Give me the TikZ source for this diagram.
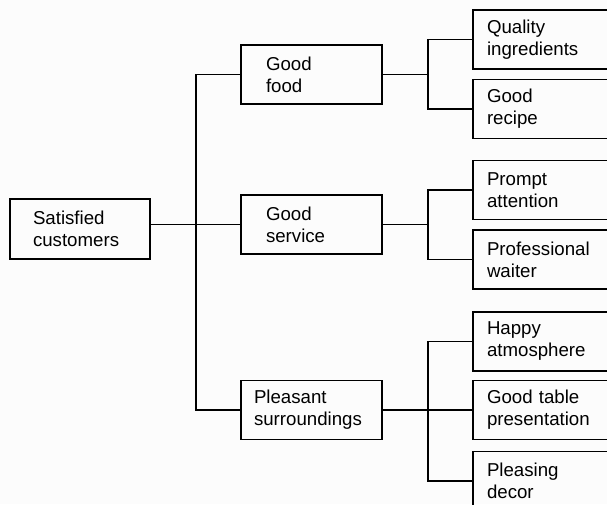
\documentclass[tikz,border=0pt]{standalone}
\usepackage{fontspec}
\setmainfont{Liberation Sans}
\begin{document}
\begin{tikzpicture}[x=0.75pt,y=-0.75pt,
  line width=0.9pt,
  % box with left-aligned text: #1 width, #2 inset, #3 text width (all in pt)
  box/.style n args={3}{draw, rectangle, inner ysep=0pt, outer sep=0pt,
    minimum width=#1, minimum height=44.25pt, inner xsep=#2, text width=#3,
    align=left, font=\fontsize{14}{16.5}\selectfont},
  rootbox/.style={box={105pt}{17.25pt}{70.5pt}, minimum height=45pt},
  midbox/.style={box={105.75pt}{18.75pt}{68.25pt}},
  widemid/.style={box={105.75pt}{9.75pt}{86.25pt}},
  leafbox/.style={box={127.5pt}{10.5pt}{106.5pt}}]

  \path[use as bounding box] (0,0) rectangle (607,504);
  \clip (0,0) rectangle (607,504);
  \fill[fill={rgb,255:red,252;green,252;blue,252}] (0,0) rectangle (607,504);

  % goal
  \node[rootbox] (root) at (80,229) {Satisfied\\customers};

  % main factors
  \node[midbox]  (food)     at (311.5,74.5)  {Good\\food};
  \node[midbox]  (service)  at (311.5,224.5) {Good\\service};
  \node[widemid] (pleasant) at (311.5,410)   {Pleasant\\surroundings};

  % contributing factors
  \node[leafbox] (quality) at (558,39.5)  {Quality\\ingredients};
  \node[leafbox] (recipe)  at (558,109)   {Good\\recipe};
  \node[leafbox] (prompt)  at (558,190)   {Prompt\\attention};
  \node[leafbox] (waiter)  at (558,259.5) {Professional\\waiter};
  \node[leafbox] (happy)   at (558,341.5) {Happy\\atmosphere};
  \node[leafbox] (table)   at (558,410)   {Good table\\presentation};
  \node[leafbox] (decor)   at (558,481)   {Pleasing\\decor};

  % bracket lines
  \coordinate (tx) at (196,0);
  \coordinate (fx) at (428,0);

  \draw (root.east |- service.west) -- (service.west);
  \draw (food.west) -- (food.west -| tx) -- (pleasant.west -| tx) -- (pleasant.west);

  \draw (food.east) -- (food.east -| fx);
  \draw (quality.west) -- (quality.west -| fx) -- (recipe.west -| fx) -- (recipe.west);

  \draw (service.east) -- (service.east -| fx);
  \draw (prompt.west) -- (prompt.west -| fx) -- (waiter.west -| fx) -- (waiter.west);

  \draw (pleasant.east) -- (table.west);
  \draw (happy.west) -- (happy.west -| fx) -- (decor.west -| fx) -- (decor.west);
\end{tikzpicture}
\end{document}
